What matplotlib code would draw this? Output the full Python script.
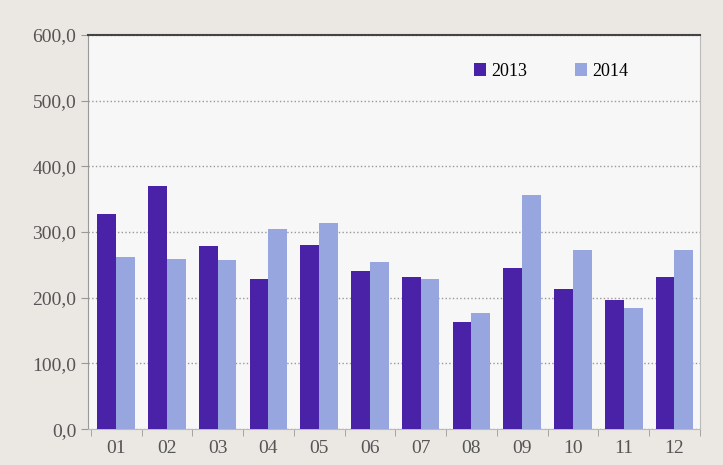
import matplotlib.pyplot as plt
import numpy as np
from matplotlib.ticker import FuncFormatter

months = ["01", "02", "03", "04", "05", "06", "07", "08", "09", "10", "11", "12"]
v2013 = [327, 370, 278, 229, 281, 240, 232, 163, 245, 213, 196, 231]
v2014 = [262, 259, 258, 305, 313, 255, 228, 177, 357, 272, 184, 272]

plt.rcParams['font.family'] = ['Liberation Serif', 'DejaVu Serif']

fig = plt.figure(figsize=(7.23, 4.65), dpi=100)
fig.patch.set_facecolor('#ebe7e3')
ax = fig.add_axes([0.122, 0.077, 0.846, 0.848])
ax.set_facecolor('#f7f7f8')

x = np.arange(len(months))
w = 0.37
ax.bar(x - w / 2, v2013, width=w, color='#4a22a8', label='2013', zorder=3)
ax.bar(x + w / 2, v2014, width=w, color='#98a6e0', label='2014', zorder=3)

ax.set_ylim(0, 600)
ax.set_xlim(-0.55, 11.45)
ax.set_yticks(np.arange(0, 601, 100))
ax.yaxis.set_major_formatter(FuncFormatter(lambda v, p: f"{v:.1f}".replace('.', ',')))
ax.set_xticks(x)
ax.set_xticklabels(months)
ax.set_xticks(np.arange(-0.5, 11.6, 1), minor=True)
ax.tick_params(axis='x', which='major', length=0, pad=8, labelsize=14, colors='#555')
ax.tick_params(axis='x', which='minor', length=5, color='#999')
ax.tick_params(axis='y', length=5, color='#999', labelsize=14, colors='#555')

ax.grid(axis='y', linestyle=':', color='#999', linewidth=1, zorder=0)
ax.spines['top'].set_color('#444')
ax.spines['top'].set_linewidth(1.5)
ax.spines['left'].set_color('#999')
ax.spines['bottom'].set_color('#bbb')
ax.spines['right'].set_color('#bbb')

ax.legend(loc='upper right', bbox_to_anchor=(0.91, 0.97), ncol=2, frameon=False,
          fontsize=13, handlelength=0.7, handleheight=0.7, columnspacing=2.6,
          handletextpad=0.3)

fig.savefig('out.png', dpi=100, facecolor=fig.get_facecolor())
